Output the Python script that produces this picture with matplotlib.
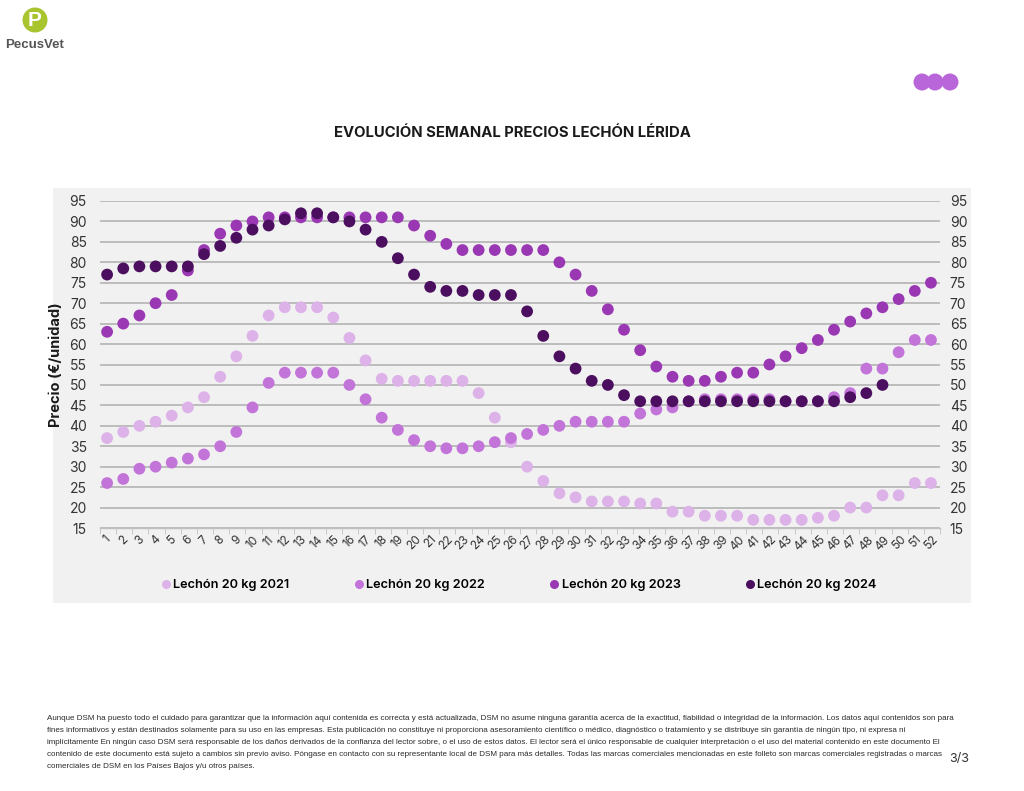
import matplotlib
matplotlib.use("Agg")
import matplotlib.pyplot as plt
from matplotlib.patches import Rectangle, Circle
from matplotlib.lines import Line2D
import numpy as np

plt.rcParams['font.family'] = ['Inter', 'DejaVu Sans']

weeks = list(range(1, 53))

s2021 = [37, 38.5, 40, 41, 42.5, 44.5, 47, 52, 57, 62, 67, 69, 69, 69, 66.5, 61.5,
         56, 51.5, 51, 51, 51, 51, 51, 48, 42, 36, 30, 26.5, 23.5, 22.5, 21.5, 21.5,
         21.5, 21, 21, 19, 19, 18, 18, 18, 17, 17, 17, 17, 17.5, 18, 20, 20, 23, 23, 26, 26]
s2022 = [26, 27, 29.5, 30, 31, 32, 33, 35, 38.5, 44.5, 50.5, 53, 53, 53, 53, 50,
         46.5, 42, 39, 36.5, 35, 34.5, 34.5, 35, 36, 37, 38, 39, 40, 41, 41, 41,
         41, 43, 44, 44.5, 46, 46.5, 46.5, 46.5, 46.5, 46.5, 46, 46, 46, 47, 48, 54, 54, 58, 61, 61]
s2023 = [63, 65, 67, 70, 72, 78, 83, 87, 89, 90, 91, 91, 91, 91, 91, 91,
         91, 91, 91, 89, 86.5, 84.5, 83, 83, 83, 83, 83, 83, 80, 77, 73, 68.5,
         63.5, 58.5, 54.5, 52, 51, 51, 52, 53, 53, 55, 57, 59, 61, 63.5, 65.5, 67.5, 69, 71, 73, 75]
s2024 = [77, 78.5, 79, 79, 79, 79, 82, 84, 86, 88, 89, 90.5, 92, 92, 91, 90,
         88, 85, 81, 77, 74, 73, 73, 72, 72, 72, 68, 62, 57, 54, 51, 50,
         47.5, 46, 46, 46, 46, 46, 46, 46, 46, 46, 46, 46, 46, 46, 47, 48, 50]

series_names = ["Lechón 20 kg 2021", "Lechón 20 kg 2022", "Lechón 20 kg 2023", "Lechón 20 kg 2024"]
series_vals = [s2021, s2022, s2023, s2024]
colors = ["#dcb2e8", "#c274d9", "#9a38b4", "#4c0f5f"]
yticks = list(range(15, 100, 5))

title = "EVOLUCIÓN SEMANAL PRECIOS LECHÓN LÉRIDA"
ylabel = "Precio (€/unidad)"
footer_lines = [
    "Aunque DSM ha puesto todo el cuidado para garantizar que la información aquí contenida es correcta y está actualizada, DSM no asume ninguna garantía acerca de la exactitud, fiabilidad o integridad de la información. Los datos aquí contenidos son para",
    "fines informativos y están destinados solamente para su uso en las empresas. Esta publicación no constituye ni proporciona asesoramiento científico o médico, diagnóstico o tratamiento y se distribuye sin garantía de ningún tipo, ni expresa ni",
    "implícitamente En ningún caso DSM será responsable de los daños derivados de la confianza del lector sobre, o el uso de estos datos. El lector será el único responsable de cualquier interpretación o el uso del material contenido en este documento El",
    "contenido de este documento está sujeto a cambios sin previo aviso. Póngase en contacto con su representante local de DSM para más detalles. Todas las marcas comerciales mencionadas en este folleto son marcas comerciales registradas o marcas",
    "comerciales de DSM en los Países Bajos y/u otros países.",
]

W, H = 1024, 791
fig = plt.figure(figsize=(W / 100, H / 100), dpi=100)
fig.patch.set_facecolor("white")

# overlay in pixel coordinates
ov = fig.add_axes([0, 0, 1, 1], zorder=0)
ov.set_xlim(0, W)
ov.set_ylim(H, 0)
ov.axis("off")
ov.add_patch(Rectangle((53, 188), 918, 415, facecolor="#f1f1f1", edgecolor="none"))
# logo
ov.add_patch(Circle((35, 20), 12.5, facecolor="#a8c530", edgecolor="none"))
ov.text(35, 20.5, "P", color="white", fontsize=15, fontweight="bold", ha="center", va="center",
        family=["Liberation Sans", "DejaVu Sans"])
ov.text(35, 45, "PecusVet", color="#555555", fontsize=9.5, fontweight="bold", ha="center", va="center",
        family=["Liberation Sans Narrow", "Liberation Sans", "DejaVu Sans"])
for cx in (922, 935, 950):
    ov.add_patch(Circle((cx, 82), 8.5, facecolor="#b866d9", edgecolor="none"))
ov.text(512, 133, title, fontsize=10.7, fontweight="bold", ha="center", va="center", color="#1a1a1a")
for i, line in enumerate(footer_lines):
    ov.text(47, 719 + i * 11.8, line, fontsize=5.72, ha="left", va="center", color="#2a2a2a",
            family=["Liberation Sans Narrow", "Liberation Sans", "DejaVu Sans"])
ov.text(969, 759, "3/3", fontsize=9, ha="right", va="center", color="#333333")

ax = fig.add_axes([100 / W, 1 - 528 / H, 840 / W, 327 / H], zorder=1)
ax.patch.set_alpha(0)
for name, vals, c in zip(series_names, series_vals, colors):
    ax.scatter(weeks[:len(vals)], vals, s=72, color=c, edgecolors="none", zorder=3, label=name)

ax.set_xlim(0.56, 52.56)
ax.set_ylim(15, 95)
ax.set_yticks(yticks)
ax.yaxis.grid(True, color="#b3b3b3", linewidth=1.2)
ax.set_axisbelow(True)
for side in ("top", "left", "right"):
    ax.spines[side].set_visible(False)
ax.spines["bottom"].set_color("#c0c0c0")
ax.spines["bottom"].set_linewidth(1.0)
ax.set_xticks(weeks)
ax.set_xticklabels([str(w) for w in weeks], rotation=45, fontsize=8.5, color="#333333")
ax.set_xticks(np.arange(0.56, 53, 1), minor=True)
ax.tick_params(axis="x", which="major", length=0, pad=4)
ax.tick_params(axis="x", which="minor", length=4, color="#c0c0c0")
ax.tick_params(axis="y", which="major", length=0, labelsize=10, labelcolor="#333333", pad=9.5)
ax.set_ylabel(ylabel, fontsize=10.5, fontweight="bold", color="#1a1a1a")
ax.yaxis.set_label_coords(-0.044, 0.5)

ax2 = ax.twinx()
ax2.set_ylim(15, 95)
ax2.set_yticks(yticks)
for side in ("top", "left", "right", "bottom"):
    ax2.spines[side].set_visible(False)
ax2.tick_params(axis="y", which="major", length=0, labelsize=10, labelcolor="#333333", pad=7)

handles = [Line2D([0], [0], marker="o", linestyle="none", markersize=6.5, markerfacecolor=c,
                  markeredgecolor="none") for c in colors]
fig.legend(handles, series_names, loc="center", bbox_to_anchor=(0.507, 1 - 585 / H), ncol=4,
           frameon=False, handlelength=0.6, handletextpad=0.3, columnspacing=5.1,
           prop={"size": 9.2, "weight": "semibold"})

fig.savefig("out.png", dpi=100)
